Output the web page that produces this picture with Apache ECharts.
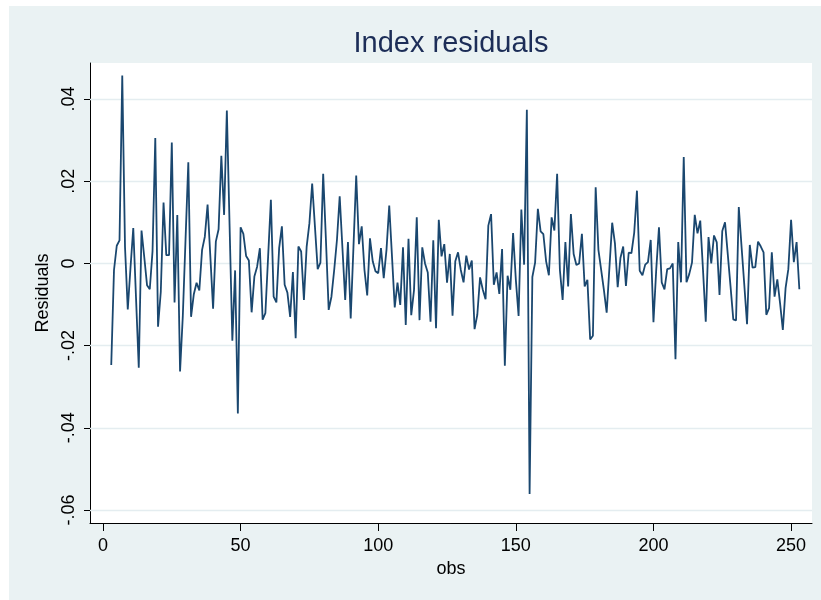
<!DOCTYPE html>
<html>
<head>
<meta charset="utf-8">
<script src="https://cdn.jsdelivr.net/npm/echarts@6/dist/echarts.min.js"></script>
<style>
  html, body { margin: 0; padding: 0; background: #ffffff; }
  #bg { position: absolute; left: 9px; top: 6px; width: 812px; height: 594px; background: #eaf2f3; }
  #chart { position: absolute; left: 0; top: 0; width: 821px; height: 600px; }
</style>
</head>
<body>
<div id="bg"></div>
<div id="chart"></div>
<script>
// ---- data ----
const firstObs = 3;
const residuals = [
  -0.0247, -0.0016, 0.0043, 0.0056, 0.0457, 0.0040, -0.0112, -0.0010, 0.0086, -0.0084,
  -0.0254, 0.0080, 0.0015, -0.0053, -0.0063, 0.0030, 0.0305, -0.0154, -0.0069, 0.0148,
  0.0020, 0.0020, 0.0294, -0.0095, 0.0118, -0.0263, -0.0128, 0.0060, 0.0246, -0.0130,
  -0.0075, -0.0047, -0.0066, 0.0033, 0.0065, 0.0143, 0.0017, -0.0110, 0.0053, 0.0083,
  0.0262, 0.0118, 0.0372, 0.0090, -0.0188, -0.0017, -0.0365, 0.0088, 0.0072, 0.0018,
  0.0007, -0.0119, -0.0032, -0.0008, 0.0037, -0.0137, -0.0121, 0.0017, 0.0155, -0.0081,
  -0.0095, 0.0037, 0.0090, -0.0052, -0.0071, -0.0130, -0.0021, -0.0182, 0.0041, 0.0029,
  -0.0089, 0.0041, 0.0098, 0.0194, 0.0090, -0.0014, 0.0002, 0.0218, 0.0057, -0.0113,
  -0.0081, -0.0016, 0.0057, 0.0163, 0.0037, -0.0089, 0.0052, -0.0134, 0.0040, 0.0214,
  0.0047, 0.0090, -0.0016, -0.0078, 0.0061, 0.0005, -0.0019, -0.0024, 0.0037, -0.0036,
  0.0033, 0.0141, 0.0017, -0.0107, -0.0047, -0.0101, 0.0039, -0.0150, 0.0060, -0.0126,
  -0.0065, 0.0112, -0.0138, 0.0039, 0.0000, -0.0022, -0.0142, 0.0056, -0.0158, 0.0106,
  0.0017, 0.0047, -0.0047, 0.0023, -0.0127, 0.0005, 0.0027, -0.0016, -0.0046, 0.0019,
  -0.0015, 0.0007, -0.0160, -0.0125, -0.0034, -0.0064, -0.0087, 0.0092, 0.0120, -0.0052,
  -0.0022, -0.0074, 0.0035, -0.0249, -0.0030, -0.0064, 0.0074, -0.0040, -0.0128, 0.0131,
  -0.0003, 0.0374, -0.0561, -0.0033, 0.0002, 0.0133, 0.0078, 0.0071, 0.0005, -0.0029,
  0.0112, 0.0080, 0.0218, -0.0016, -0.0089, 0.0052, -0.0056, 0.0120, 0.0023, -0.0004,
  0.0000, 0.0072, -0.0056, -0.0040, -0.0185, -0.0176, 0.0185, 0.0033, -0.0016, -0.0065,
  -0.0120, -0.0010, 0.0099, 0.0049, -0.0058, 0.0013, 0.0041, -0.0055, 0.0026, 0.0025,
  0.0074, 0.0177, -0.0018, -0.0029, -0.0003, 0.0003, 0.0057, -0.0143, -0.0016, 0.0088,
  -0.0046, -0.0063, -0.0014, -0.0012, 0.0000, -0.0233, 0.0052, -0.0046, 0.0259, -0.0046,
  -0.0026, 0.0002, 0.0118, 0.0073, 0.0104, -0.0016, -0.0142, 0.0064, 0.0000, 0.0068,
  0.0051, -0.0077, 0.0079, 0.0100, 0.0022, -0.0056, -0.0136, -0.0139, 0.0137, 0.0041,
  -0.0052, -0.0148, 0.0045, -0.0010, -0.0009, 0.0053, 0.0041, 0.0027, -0.0125, -0.0109,
  0.0027, -0.0081, -0.0039, -0.0097, -0.0162, -0.0060, -0.0014, 0.0106, 0.0003, 0.0052,
  -0.0063
];
const xTickValues = [0, 50, 100, 150, 200, 250];
const yTickValues = [-0.06, -0.04, -0.02, 0, 0.02, 0.04];
const yTickLabels = ['-.06', '-.04', '-.02', '0', '.02', '.04'];
const titleText = 'Index residuals';
const xTitle = 'obs';
const yTitle = 'Residuals';

// ---- build ----
const seriesData = residuals.map((v, i) => [firstObs + i, v]);
const FONT = '"Liberation Sans", Arial, sans-serif';

function yLabel(v) {
  let best = 0, bd = Infinity;
  yTickValues.forEach((t, i) => { const d = Math.abs(t - v); if (d < bd) { bd = d; best = i; } });
  return yTickLabels[best];
}

const chart = echarts.init(document.getElementById('chart'), null, { renderer: 'canvas' });
chart.setOption({
  animation: false,
  backgroundColor: 'transparent',
  title: {
    text: titleText,
    left: 446,
    textAlign: 'center',
    top: 24,
    textStyle: { fontFamily: FONT, fontSize: 29, fontWeight: 'normal', color: '#1c2d57' }
  },
  grid: {
    left: 90, right: 9, top: 63, bottom: 77,
    show: true, backgroundColor: '#ffffff', borderWidth: 0,
    containLabel: false
  },
  xAxis: {
    type: 'value',
    min: -4.72, max: 257.6,
    name: xTitle,
    nameLocation: 'middle',
    nameGap: 37,
    nameTextStyle: { fontFamily: FONT, fontSize: 18, color: '#000' },
    axisLine: { show: true, onZero: false, lineStyle: { color: '#000', width: 1 } },
    axisTick: { show: true, length: 8, customValues: xTickValues, lineStyle: { color: '#000', width: 1 } },
    axisLabel: { customValues: xTickValues, fontFamily: FONT, fontSize: 18, color: '#000', margin: 14 },
    splitLine: { show: false }
  },
  yAxis: {
    type: 'value',
    min: -0.06316, max: 0.04876,
    name: yTitle,
    nameLocation: 'middle',
    nameRotate: 90,
    nameGap: 38,
    nameTextStyle: { fontFamily: FONT, fontSize: 18, color: '#000' },
    axisLine: { show: true, onZero: false, lineStyle: { color: '#000', width: 1 } },
    axisTick: { show: true, length: 6, customValues: yTickValues, lineStyle: { color: '#000', width: 1 } },
    axisLabel: {
      customValues: yTickValues, rotate: 90, fontFamily: FONT, fontSize: 18, color: '#000', margin: 12,
      formatter: (v) => yLabel(v)
    },
    splitLine: { show: false }
  },
  series: [{
    type: 'line',
    data: seriesData,
    showSymbol: false,
    symbol: 'none',
    lineStyle: { color: '#1a476f', width: 1.8 },
    z: 5,
    markLine: {
      silent: true,
      symbol: ['none', 'none'],
      label: { show: false },
      lineStyle: { color: '#e4edf0', width: 1.3, type: 'solid' },
      z: 1,
      data: yTickValues.map(v => ({ yAxis: v }))
    }
  }]
});
</script>
</body>
</html>
